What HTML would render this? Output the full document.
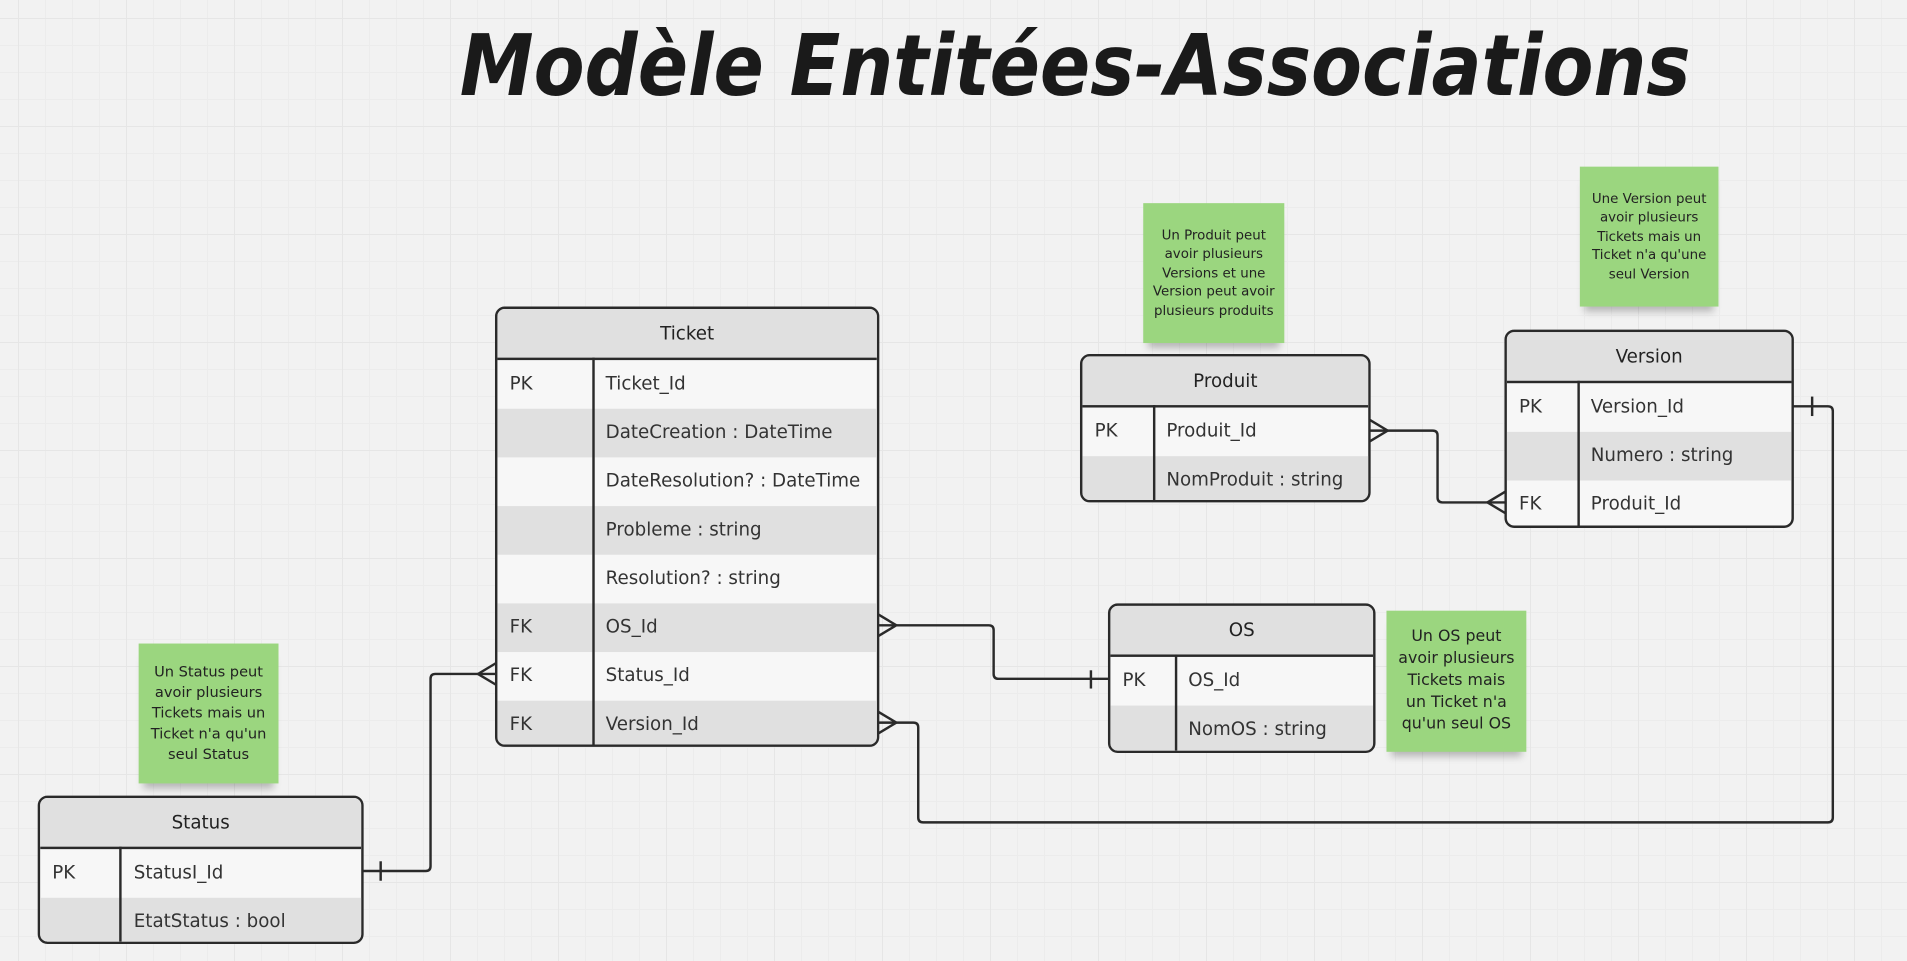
<!DOCTYPE html>
<html><head><meta charset="utf-8"><style>
html,body{margin:0;padding:0;}
body{width:1907px;height:961px;overflow:hidden;background-color:#f2f2f2;
background-image:linear-gradient(#e6e6e6 1px,transparent 1px),linear-gradient(90deg,#e6e6e6 1px,transparent 1px),linear-gradient(#ececec 1px,transparent 1px),linear-gradient(90deg,#ececec 1px,transparent 1px);
background-size:108px 108px,108px 108px,27px 27px,27px 27px;background-position:18px 18px,18px 18px,18px 18px,18px 18px;}
#w{position:absolute;left:0;top:0;width:1568px;height:790px;transform:scale(1.2162,1.2165);transform-origin:0 0;font-family:"DejaVu Sans","Liberation Sans",sans-serif;}
.t{position:absolute;border:2px solid #2a2a2a;border-radius:8px;overflow:hidden;box-sizing:border-box;background:#f7f7f7;}
.h{height:40px;background:#e0e0e0;border-bottom:2px solid #2a2a2a;text-align:center;line-height:40px;font-size:15px;color:#222;}
.r{height:40px;line-height:38px;font-size:15px;color:#333;position:relative;}
.r.g{background:#e0e0e0;}
.r span.k{position:absolute;left:10px;}
.r span.v{position:absolute;}
.d{position:absolute;top:40px;bottom:0;width:2px;background:#2a2a2a;z-index:2;}
.n{position:absolute;background:#9bd67f;font-size:11.5px;line-height:15.5px;color:#222;text-align:center;display:flex;align-items:center;justify-content:center;box-shadow:0 8px 6px -4px rgba(0,0,0,.25);}
</style></head><body><div id="w">
<svg width="1568" height="790" style="position:absolute;left:0;top:0">
<text x="378" y="78" font-family="DejaVu Sans,Liberation Sans,sans-serif" font-weight="bold" font-style="italic" font-size="70" textLength="1012" lengthAdjust="spacingAndGlyphs" fill="#1a1a1a">Modèle Entitées-Associations</text>
<g fill="none" stroke="#2a2a2a" stroke-width="2">
<path d="M722 514 H813 Q817 514 817 518 V554 Q817 558 821 558 H912"/>
<path d="M722 505 L737 514 L722 523"/>
<path d="M897 551 V566"/>
<path d="M408 554 H358 Q354 554 354 558 V712 Q354 716 350 716 H298"/>
<path d="M408 545 L393 554 L408 563"/>
<path d="M313 708 V724"/>
<path d="M722 594 H751 Q755 594 755 598 V672 Q755 676 759 676 H1503 Q1507 676 1507 672 V338 Q1507 334 1503 334 H1474"/>
<path d="M722 585 L737 594 L722 603"/>
<path d="M1490 326 V342"/>
<path d="M1126 354 H1178 Q1182 354 1182 358 V409 Q1182 413 1186 413 H1238"/>
<path d="M1126 345 L1141 354 L1126 363"/>
<path d="M1238 404 L1223 413 L1238 422"/>
</g></svg>

<div class="t" style="left:407px;top:252px;width:316px;height:362px">
<div class="h">Ticket</div><div class="d" style="left:78px"></div>
<div class="r"><span class="k">PK</span><span class="v" style="left:89px">Ticket_Id</span></div>
<div class="r g"><span class="v" style="left:89px">DateCreation : DateTime</span></div>
<div class="r"><span class="v" style="left:89px">DateResolution? : DateTime</span></div>
<div class="r g"><span class="v" style="left:89px">Probleme : string</span></div>
<div class="r"><span class="v" style="left:89px">Resolution? : string</span></div>
<div class="r g"><span class="k">FK</span><span class="v" style="left:89px">OS_Id</span></div>
<div class="r"><span class="k">FK</span><span class="v" style="left:89px">Status_Id</span></div>
<div class="r g"><span class="k">FK</span><span class="v" style="left:89px">Version_Id</span></div>
</div>

<div class="t" style="left:888px;top:291px;width:239px;height:122px">
<div class="h">Produit</div><div class="d" style="left:58px"></div>
<div class="r"><span class="k">PK</span><span class="v" style="left:69px">Produit_Id</span></div>
<div class="r g"><span class="v" style="left:69px">NomProduit : string</span></div>
</div>

<div class="t" style="left:1237px;top:271px;width:238px;height:163px">
<div class="h">Version</div><div class="d" style="left:58px"></div>
<div class="r"><span class="k">PK</span><span class="v" style="left:69px">Version_Id</span></div>
<div class="r g"><span class="v" style="left:69px">Numero : string</span></div>
<div class="r"><span class="k">FK</span><span class="v" style="left:69px">Produit_Id</span></div>
</div>

<div class="t" style="left:911px;top:496px;width:220px;height:123px">
<div class="h">OS</div><div class="d" style="left:53px"></div>
<div class="r"><span class="k">PK</span><span class="v" style="left:64px">OS_Id</span></div>
<div class="r g"><span class="v" style="left:64px">NomOS : string</span></div>
</div>

<div class="t" style="left:31px;top:654px;width:268px;height:122px">
<div class="h">Status</div><div class="d" style="left:65px"></div>
<div class="r"><span class="k">PK</span><span class="v" style="left:77px">StatusI_Id</span></div>
<div class="r g"><span class="v" style="left:77px">EtatStatus : bool</span></div>
</div>

<div class="n" style="left:940px;top:167px;width:116px;height:115px;font-size:11px">Un Produit peut<br>avoir plusieurs<br>Versions et une<br>Version peut avoir<br>plusieurs produits</div>
<div class="n" style="left:1299px;top:137px;width:114px;height:115px;font-size:11px">Une Version peut<br>avoir plusieurs<br>Tickets mais un<br>Ticket n'a qu'une<br>seul Version</div>
<div class="n" style="left:1140px;top:502px;width:115px;height:116px;font-size:13px;line-height:18px">Un OS peut<br>avoir plusieurs<br>Tickets mais<br>un Ticket n'a<br>qu'un seul OS</div>
<div class="n" style="left:114px;top:529px;width:115px;height:115px;font-size:12px;line-height:17px">Un Status peut<br>avoir plusieurs<br>Tickets mais un<br>Ticket n'a qu'un<br>seul Status</div>
</div></body></html>
